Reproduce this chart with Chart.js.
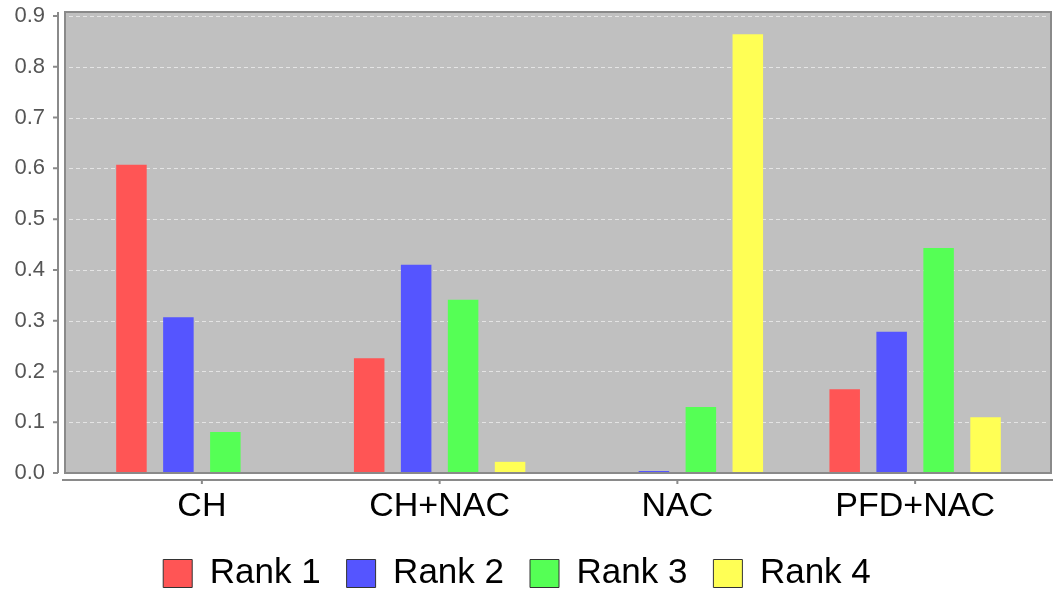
<!DOCTYPE html>
<html>
<head>
<meta charset="utf-8">
<script src="https://cdn.jsdelivr.net/npm/chart.js@4.4.0/dist/chart.umd.min.js"></script>
<style>
  html, body { margin: 0; padding: 0; background: #ffffff; }
  #wrap { width: 1054px; height: 590px; position: relative; }
</style>
</head>
<body>
<div id="wrap"><canvas id="rankChart"></canvas></div>
<script>
// categories and rank probabilities
const categories = ['CH', 'CH+NAC', 'NAC', 'PFD+NAC'];
const rank1 = [0.607, 0.226, 0.0, 0.165];
const rank2 = [0.307, 0.410, 0.004, 0.278];
const rank3 = [0.081, 0.341, 0.130, 0.443];
const rank4 = [0.0, 0.022, 0.864, 0.110];
const seriesNames = ['Rank 1', 'Rank 2', 'Rank 3', 'Rank 4'];
const seriesColors = ['#ff5555', '#5555ff', '#55ff55', '#ffff55'];

// grey plot box sticks out a bit past the category band
const EXTRA_LEFT = 18;
const EXTRA_RIGHT = 17;

function plotBox(a) {
    return { l: a.left - EXTRA_LEFT, r: a.right + EXTRA_RIGHT, t: a.top, b: a.bottom };
}

const plotFrame = {
    id: 'plotFrame',
    beforeDatasetsDraw(chart) {
        const { ctx, chartArea, scales } = chart;
        const p = plotBox(chartArea);
        ctx.save();
        ctx.fillStyle = '#c0c0c0';
        ctx.fillRect(p.l, p.t, p.r - p.l, p.b - p.t);

        // dashed grid lines
        ctx.strokeStyle = '#e4e4e4';
        ctx.lineWidth = 1;
        ctx.setLineDash([4, 3]);
        ctx.beginPath();
        scales.y.ticks.forEach(t => {
            const py = Math.round(scales.y.getPixelForValue(t.value)) + 0.5;
            ctx.moveTo(p.l + 4, py);
            ctx.lineTo(p.r - 2, py);
        });
        ctx.stroke();
        ctx.restore();
    },
    afterDraw(chart) {
        const { ctx, chartArea, scales } = chart;
        const p = plotBox(chartArea);
        ctx.save();
        ctx.strokeStyle = '#8a8a8a';
        ctx.lineWidth = 2;
        ctx.strokeRect(p.l, p.t, p.r - p.l, p.b - p.t);

        // detached y axis line with ticks
        const yx = p.l - 7;
        ctx.beginPath();
        ctx.moveTo(yx, p.t);
        ctx.lineTo(yx, p.b);
        scales.y.ticks.forEach(t => {
            const py = scales.y.getPixelForValue(t.value);
            ctx.moveTo(yx - 5, py);
            ctx.lineTo(yx, py);
        });
        ctx.stroke();

        // detached x axis line with ticks
        const xy = p.b + 7;
        ctx.beginPath();
        ctx.moveTo(p.l - 3, xy);
        ctx.lineTo(p.r + 2, xy);
        categories.forEach((c, i) => {
            const px = scales.x.getPixelForValue(i);
            ctx.moveTo(px, xy);
            ctx.lineTo(px, xy + 4);
        });
        ctx.stroke();
        ctx.restore();
    }
};

const datasets = [rank1, rank2, rank3, rank4].map((vals, i) => ({
    label: seriesNames[i],
    data: vals,
    backgroundColor: seriesColors[i],
    borderWidth: 0,
    barPercentage: 0.65,
    categoryPercentage: 0.79
}));

new Chart(document.getElementById('rankChart'), {
    type: 'bar',
    data: { labels: categories, datasets: datasets },
    plugins: [plotFrame],
    options: {
        responsive: true,
        maintainAspectRatio: false,
        animation: false,
        layout: { padding: { top: 12, right: 20, left: 0, bottom: 0 } },
        plugins: {
            tooltip: { enabled: false },
            legend: {
                position: 'bottom',
                maxHeight: 60,
                labels: {
                    color: '#000000',
                    font: { family: 'Liberation Sans, Arial, sans-serif', size: 35 },
                    boxWidth: 29,
                    boxHeight: 28,
                    padding: 26,
                    generateLabels(chart) {
                        return chart.data.datasets.map((ds, i) => ({
                            text: ds.label,
                            fillStyle: ds.backgroundColor,
                            strokeStyle: '#333333',
                            lineWidth: 1,
                            datasetIndex: i,
                            hidden: false
                        }));
                    }
                }
            }
        },
        scales: {
            x: {
                grid: { display: false, drawTicks: false },
                border: { display: false },
                ticks: {
                    color: '#000000',
                    font: { family: 'Liberation Sans, Arial, sans-serif', size: 34 },
                    padding: 13
                },
                afterFit(scale) {
                    scale.height = 57;
                    scale.paddingLeft = 0;
                    scale.paddingRight = 0;
                }
            },
            y: {
                min: 0,
                max: 0.908,
                grid: { display: false, drawTicks: false },
                border: { display: false },
                ticks: {
                    stepSize: 0.1,
                    includeBounds: false,
                    color: '#555555',
                    font: { family: 'Liberation Sans, Arial, sans-serif', size: 22 },
                    padding: 38,
                    callback: v => v.toFixed(1)
                },
                afterFit(scale) {
                    scale.width = 83;
                    scale.paddingTop = 0;
                    scale.paddingBottom = 0;
                }
            }
        }
    }
});
</script>
</body>
</html>
